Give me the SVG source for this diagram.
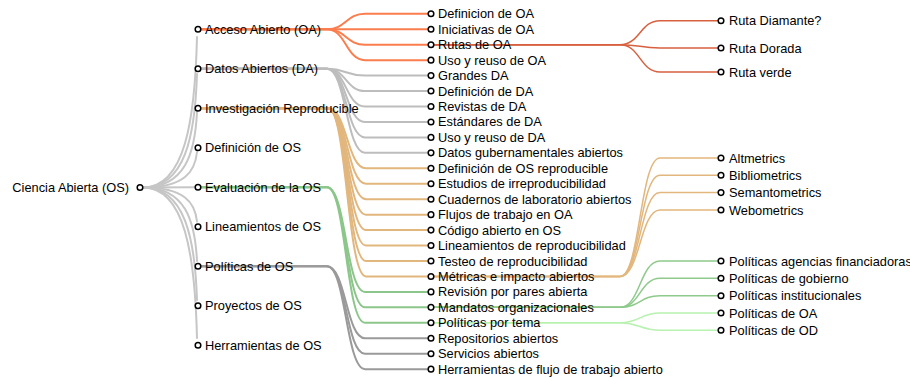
<svg xmlns="http://www.w3.org/2000/svg" width="910" height="378" viewBox="0 0 910 378">
<style>
  .lk path { fill: none; stroke-width: 2; stroke-linecap: round; }
  .l3 { stroke-width: 1.5 !important; }
  .root { stroke: #c6c6c6; }
  .oa { stroke: #fb7d4e; }
  .da { stroke: #bdbdbd; }
  .ir { stroke: #e2b77e; }
  .ev { stroke: #8cc68a; }
  .po { stroke: #9a9a9a; }
  .ru { stroke: #d8603f; }
  .me { stroke: #e2b77e; }
  .ma { stroke: #8fca8c; }
  .pt { stroke: #b8f2b0; }
  .node circle { fill: #fff; stroke: #000; stroke-width: 1.5; }
  .node text { font-family: "Liberation Sans", Arial, sans-serif; font-size: 12.8px; fill: #000; }
</style>
<g id="connectors" class="lk">
  <path class="root" d="M143,187.5 C185,187.5 195,119.8 197,37"/>
  <path class="root" d="M143,187.5 C185,187.5 195,136.4 197,74"/>
  <path class="root" d="M143,187.5 C185,187.5 195,153.5 197,112"/>
  <path class="root" d="M143,187.5 C185,187.5 195,171.5 197,152"/>
  <path class="root" d="M143,187.5 C185,187.5 190,187.3 197,187.3"/>
  <path class="root" d="M143,187.5 C185,187.5 195,202.8 197,221.5"/>
  <path class="root" d="M143,187.5 C185,187.5 195,220.6 197,261"/>
  <path class="root" d="M143,187.5 C185,187.5 195,238.1 197,300"/>
  <path class="root" d="M143,187.5 C185,187.5 195,255.2 197,338"/>

  <path class="oa" d="M198,29.3 H327 C346,29.3 346,13.8 365,13.8 H431"/>
  <path class="oa" d="M198,29.3 H327 C346,29.3 346,29.25 365,29.25 H431"/>
  <path class="oa" d="M198,29.3 H327 C346,29.3 346,44.7 365,44.7 H431"/>
  <path class="oa" d="M198,29.3 H327 C346,29.3 346,60.15 365,60.15 H431"/>

  <path class="da" d="M198,68.8 H327 C346,68.8 346,75.6 365,75.6 H431"/>
  <path class="da" d="M198,68.8 H327 C346,68.8 346,91.05 365,91.05 H431"/>
  <path class="da" d="M198,68.8 H327 C346,68.8 346,106.5 365,106.5 H431"/>
  <path class="da" d="M198,68.8 H327 C346,68.8 346,121.95 365,121.95 H431"/>
  <path class="da" d="M198,68.8 H327 C346,68.8 346,137.4 365,137.4 H431"/>
  <path class="da" d="M198,68.8 H327 C346,68.8 346,152.85 365,152.85 H431"/>

  <path class="ir" d="M198,108.3 H328 C347,108.3 347,168.3 366,168.3 H431"/>
  <path class="ir" d="M198,108.3 H328 C347,108.3 347,183.75 366,183.75 H431"/>
  <path class="ir" d="M198,108.3 H328 C347,108.3 347,199.2 366,199.2 H431"/>
  <path class="ir" d="M198,108.3 H328 C347,108.3 347,214.65 366,214.65 H431"/>
  <path class="ir" d="M198,108.3 H328 C347,108.3 347,230.1 366,230.1 H431"/>
  <path class="ir" d="M198,108.3 H328 C347,108.3 347,245.55 366,245.55 H431"/>
  <path class="ir" d="M198,108.3 H328 C347,108.3 347,261 366,261 H431"/>
  <path class="ir" d="M198,108.3 H328 C347,108.3 347,276.45 366,276.45 H431"/>

  <path class="ev" d="M198,187.3 H327 C346,187.3 346,291.9 365,291.9 H431"/>
  <path class="ev" d="M198,187.3 H327 C346,187.3 346,307.35 365,307.35 H431"/>
  <path class="ev" d="M198,187.3 H327 C346,187.3 346,322.8 365,322.8 H431"/>

  <path class="po" d="M198,266.3 H327 C346,266.3 346,338.25 365,338.25 H431"/>
  <path class="po" d="M198,266.3 H327 C346,266.3 346,353.7 365,353.7 H431"/>
  <path class="po" d="M198,266.3 H327 C346,266.3 346,369.15 365,369.15 H431"/>

  <path class="ru l3" d="M431,44.7 H620 C640,44.7 640,20.7 660,20.7 H721"/>
  <path class="ru l3" d="M431,44.7 H620 C640,44.7 640,48 660,48 H721"/>
  <path class="ru l3" d="M431,44.7 H620 C640,44.7 640,72 660,72 H721"/>

  <path class="me l3" d="M431,276.45 H620 C640,276.45 640,158 660,158 H721"/>
  <path class="me l3" d="M431,276.45 H620 C640,276.45 640,175.3 660,175.3 H721"/>
  <path class="me l3" d="M431,276.45 H620 C640,276.45 640,192.6 660,192.6 H721"/>
  <path class="me l3" d="M431,276.45 H620 C640,276.45 640,210 660,210 H721"/>

  <path class="ma l3" d="M431,307.35 H620 C640,307.35 640,261 660,261 H721"/>
  <path class="ma l3" d="M431,307.35 H620 C640,307.35 640,278.3 660,278.3 H721"/>
  <path class="ma l3" d="M431,307.35 H620 C640,307.35 640,295.7 660,295.7 H721"/>

  <path class="pt l3" d="M431,322.8 H620 C640,322.8 640,313 660,313 H721"/>
  <path class="pt l3" d="M431,322.8 H620 C640,322.8 640,330.3 660,330.3 H721"/>
</g>

<g id="n-root" class="node"><circle cx="140" cy="187.5" r="2.8"/><text x="129" y="192" text-anchor="end">Ciencia Abierta (OS)</text></g>

<g id="n-oa" class="node"><circle cx="198" cy="29.3" r="2.8"/><text x="205" y="33.8">Acceso Abierto (OA)</text></g>
<g id="n-da" class="node"><circle cx="198" cy="68.8" r="2.8"/><text x="205" y="73.3">Datos Abiertos (DA)</text></g>
<g id="n-ir" class="node"><circle cx="198" cy="108.3" r="2.8"/><text x="205" y="112.8">Investigación Reproducible</text></g>
<g id="n-def" class="node"><circle cx="198" cy="147.8" r="2.8"/><text x="205" y="152.3">Definición de OS</text></g>
<g id="n-ev" class="node"><circle cx="198" cy="187.3" r="2.8"/><text x="205" y="191.8">Evaluación de la OS</text></g>
<g id="n-lin" class="node"><circle cx="198" cy="226.8" r="2.8"/><text x="205" y="231.3">Lineamientos de OS</text></g>
<g id="n-pol" class="node"><circle cx="198" cy="266.3" r="2.8"/><text x="205" y="270.8">Políticas de OS</text></g>
<g id="n-pro" class="node"><circle cx="198" cy="305.8" r="2.8"/><text x="205" y="310.3">Proyectos de OS</text></g>
<g id="n-her" class="node"><circle cx="198" cy="345.3" r="2.8"/><text x="205" y="349.8">Herramientas de OS</text></g>

<g id="n2-0" class="node"><circle cx="431" cy="13.8" r="2.8"/><text x="438" y="18.3">Definicion de OA</text></g>
<g id="n2-1" class="node"><circle cx="431" cy="29.25" r="2.8"/><text x="438" y="33.75">Iniciativas de OA</text></g>
<g id="n2-2" class="node"><circle cx="431" cy="44.7" r="2.8"/><text x="438" y="49.2">Rutas de OA</text></g>
<g id="n2-3" class="node"><circle cx="431" cy="60.15" r="2.8"/><text x="438" y="64.65">Uso y reuso de OA</text></g>
<g id="n2-4" class="node"><circle cx="431" cy="75.6" r="2.8"/><text x="438" y="80.1">Grandes DA</text></g>
<g id="n2-5" class="node"><circle cx="431" cy="91.05" r="2.8"/><text x="438" y="95.55">Definición de DA</text></g>
<g id="n2-6" class="node"><circle cx="431" cy="106.5" r="2.8"/><text x="438" y="111">Revistas de DA</text></g>
<g id="n2-7" class="node"><circle cx="431" cy="121.95" r="2.8"/><text x="438" y="126.45">Estándares de DA</text></g>
<g id="n2-8" class="node"><circle cx="431" cy="137.4" r="2.8"/><text x="438" y="141.9">Uso y reuso de DA</text></g>
<g id="n2-9" class="node"><circle cx="431" cy="152.85" r="2.8"/><text x="438" y="157.35">Datos gubernamentales abiertos</text></g>
<g id="n2-10" class="node"><circle cx="431" cy="168.3" r="2.8"/><text x="438" y="172.8">Definición de OS reproducible</text></g>
<g id="n2-11" class="node"><circle cx="431" cy="183.75" r="2.8"/><text x="438" y="188.25">Estudios de irreproducibilidad</text></g>
<g id="n2-12" class="node"><circle cx="431" cy="199.2" r="2.8"/><text x="438" y="203.7">Cuadernos de laboratorio abiertos</text></g>
<g id="n2-13" class="node"><circle cx="431" cy="214.65" r="2.8"/><text x="438" y="219.15">Flujos de trabajo en OA</text></g>
<g id="n2-14" class="node"><circle cx="431" cy="230.1" r="2.8"/><text x="438" y="234.6">Código abierto en OS</text></g>
<g id="n2-15" class="node"><circle cx="431" cy="245.55" r="2.8"/><text x="438" y="250.05">Lineamientos de reproducibilidad</text></g>
<g id="n2-16" class="node"><circle cx="431" cy="261" r="2.8"/><text x="438" y="265.5">Testeo de reproducibilidad</text></g>
<g id="n2-17" class="node"><circle cx="431" cy="276.45" r="2.8"/><text x="438" y="280.95">Métricas e impacto abiertos</text></g>
<g id="n2-18" class="node"><circle cx="431" cy="291.9" r="2.8"/><text x="438" y="296.4">Revisión por pares abierta</text></g>
<g id="n2-19" class="node"><circle cx="431" cy="307.35" r="2.8"/><text x="438" y="311.85">Mandatos organizacionales</text></g>
<g id="n2-20" class="node"><circle cx="431" cy="322.8" r="2.8"/><text x="438" y="327.3">Políticas por tema</text></g>
<g id="n2-21" class="node"><circle cx="431" cy="338.25" r="2.8"/><text x="438" y="342.75">Repositorios abiertos</text></g>
<g id="n2-22" class="node"><circle cx="431" cy="353.7" r="2.8"/><text x="438" y="358.2">Servicios abiertos</text></g>
<g id="n2-23" class="node"><circle cx="431" cy="369.15" r="2.8"/><text x="438" y="373.65">Herramientas de flujo de trabajo abierto</text></g>

<g id="n3-ru1" class="node"><circle cx="721" cy="20.7" r="2.8"/><text x="729" y="25.2">Ruta Diamante?</text></g>
<g id="n3-ru2" class="node"><circle cx="721" cy="48" r="2.8"/><text x="729" y="52.5">Ruta Dorada</text></g>
<g id="n3-ru3" class="node"><circle cx="721" cy="72" r="2.8"/><text x="729" y="76.5">Ruta verde</text></g>
<g id="n3-me1" class="node"><circle cx="721" cy="158" r="2.8"/><text x="729" y="162.5">Altmetrics</text></g>
<g id="n3-me2" class="node"><circle cx="721" cy="175.3" r="2.8"/><text x="729" y="179.8">Bibliometrics</text></g>
<g id="n3-me3" class="node"><circle cx="721" cy="192.6" r="2.8"/><text x="729" y="197.1">Semantometrics</text></g>
<g id="n3-me4" class="node"><circle cx="721" cy="210" r="2.8"/><text x="729" y="214.5">Webometrics</text></g>
<g id="n3-ma1" class="node"><circle cx="721" cy="261" r="2.8"/><text x="729" y="265.5">Políticas agencias financiadoras</text></g>
<g id="n3-ma2" class="node"><circle cx="721" cy="278.3" r="2.8"/><text x="729" y="282.8">Políticas de gobierno</text></g>
<g id="n3-ma3" class="node"><circle cx="721" cy="295.7" r="2.8"/><text x="729" y="300.2">Políticas institucionales</text></g>
<g id="n3-pt1" class="node"><circle cx="721" cy="313" r="2.8"/><text x="729" y="317.5">Políticas de OA</text></g>
<g id="n3-pt2" class="node"><circle cx="721" cy="330.3" r="2.8"/><text x="729" y="334.8">Políticas de OD</text></g>
</svg>
